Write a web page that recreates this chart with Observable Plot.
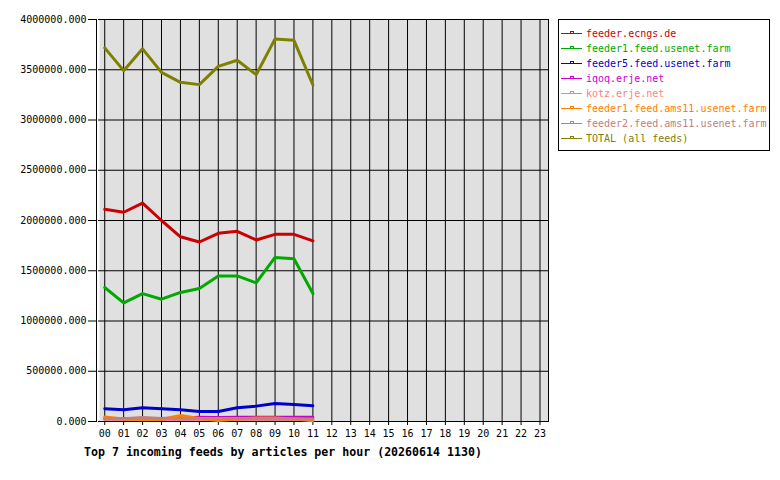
<!DOCTYPE html>
<html>
<head>
<meta charset="utf-8">
<script src="https://cdn.jsdelivr.net/npm/d3@7"></script>
<script src="https://cdn.jsdelivr.net/npm/@observablehq/plot@0.6"></script>
<style>
  body { margin: 0; background: white; }
  #wrap { position: relative; width: 780px; height: 480px; }
  #title { position: absolute; left: 84px; top: 446px; font: bold 11.6px "DejaVu Sans Mono", monospace; line-height: 12px; white-space: pre; }
  #legend { position: absolute; left: 558px; top: 19px; }
</style>
</head>
<body>
<div id="wrap"><div id="chart"></div><div id="title"></div><div id="legend"></div></div>
<script>
const hours = ["00","01","02","03","04","05","06","07","08","09","10","11","12","13","14","15","16","17","18","19","20","21","22","23"];
const seriesNames = ["feeder.ecngs.de","feeder1.feed.usenet.farm","feeder5.feed.usenet.farm","iqoq.erje.net","kotz.erje.net","feeder1.feed.ams11.usenet.farm","feeder2.feed.ams11.usenet.farm","TOTAL (all feeds)"];
const seriesColors = ["#cc0000","#00aa00","#0000cc","#cc00cc","#ff8080","#ff8000","#c08080","#808000"];
const ecngs   = [2112000,2082000,2172000,2000000,1838000,1786000,1872000,1892000,1806000,1862000,1862000,1798000];
const feeder1 = [1333000,1180000,1273000,1217000,1284000,1324000,1449000,1449000,1380000,1633000,1619000,1273000];
const feeder5 = [127000,117000,137000,126000,117000,100000,100000,137000,153000,180000,170000,157000];
const iqoq    = [30000,30000,30000,30000,35000,42000,40000,42000,42000,42000,42000,42000];
const kotz    = [20000,20000,20000,20000,20000,20000,20000,20000,20000,20000,20000,20000];
const ams1    = [45000,25000,18000,20000,60000,30000,10000,25000,35000,35000,25000,8000];
const ams2    = [27000,27000,40000,30000,28000,30000,30000,30000,28000,25000,28000,25000];
const total   = [3718000,3491000,3708000,3474000,3375000,3352000,3534000,3594000,3451000,3807000,3793000,3348000];
const yTicks = [0,500000,1000000,1500000,2000000,2500000,3000000,3500000,4000000];
const titleText = "Top 7 incoming feeds by articles per hour (20260614 1130)";

const allSeries = [ecngs, feeder1, feeder5, iqoq, kotz, ams1, ams2, total];
const rows = [];
allSeries.forEach((vals, s) => vals.forEach((v, i) => rows.push({series: seriesNames[s], hour: i, value: v})));
const hourIdx = hours.map((h, i) => i);

const chart = Plot.plot({
  width: 780, height: 480,
  marginLeft: 98, marginRight: 232, marginTop: 19, marginBottom: 59,
  x: {type: "linear", domain: [-0.33, 23.45]},
  y: {domain: [0, 4000000]},
  color: {domain: seriesNames, range: seriesColors},
  style: {fontFamily: "DejaVu Sans Mono, monospace", fontSize: "10px", color: "black", background: "white"},
  marks: [
    Plot.frame({fill: "#e0e0e0", stroke: null, insetLeft: 1}),
    Plot.gridY(yTicks, {stroke: "black", strokeOpacity: 1}),
    Plot.gridX(hourIdx, {stroke: "black", strokeOpacity: 1}),
    Plot.frame({anchor: "right", stroke: "black"}),
    Plot.frame({anchor: "left", stroke: "black", dx: -2}),
    Plot.axisY(yTicks, {tickFormat: d3.format(".3f"), tickSize: 8, tickPadding: 2, dx: -2, label: null}),
    Plot.axisX(hourIdx, {tickFormat: i => hours[i], tickSize: 4, tickPadding: 4, label: null}),
    Plot.line(rows, {x: "hour", y: "value", z: "series", stroke: "series", strokeWidth: 3, strokeLinejoin: "round"})
  ]
});
document.getElementById("chart").appendChild(chart);
document.getElementById("title").textContent = titleText;

const lg = d3.select("#legend").append("svg").attr("width", 213).attr("height", 132)
  .style("font-family", "DejaVu Sans Mono, monospace").style("font-size", "10px");
lg.append("rect").attr("x", 0.5).attr("y", 0.5).attr("width", 211).attr("height", 131).attr("fill", "white").attr("stroke", "black");
seriesNames.forEach((name, i) => {
  const cy = 14 + i * 15;
  const g = lg.append("g").attr("transform", `translate(0,${cy})`);
  g.append("line").attr("x1", 3).attr("x2", 24).attr("y1", 0.5).attr("y2", 0.5).attr("stroke", seriesColors[i]);
  g.append("rect").attr("x", 12.5).attr("y", -1.5).attr("width", 3).attr("height", 2).attr("fill", "none").attr("stroke", seriesColors[i]);
  g.append("text").attr("x", 28).attr("y", 0).attr("dy", "0.35em").attr("fill", seriesColors[i]).text(name);
});
</script>
</body>
</html>
